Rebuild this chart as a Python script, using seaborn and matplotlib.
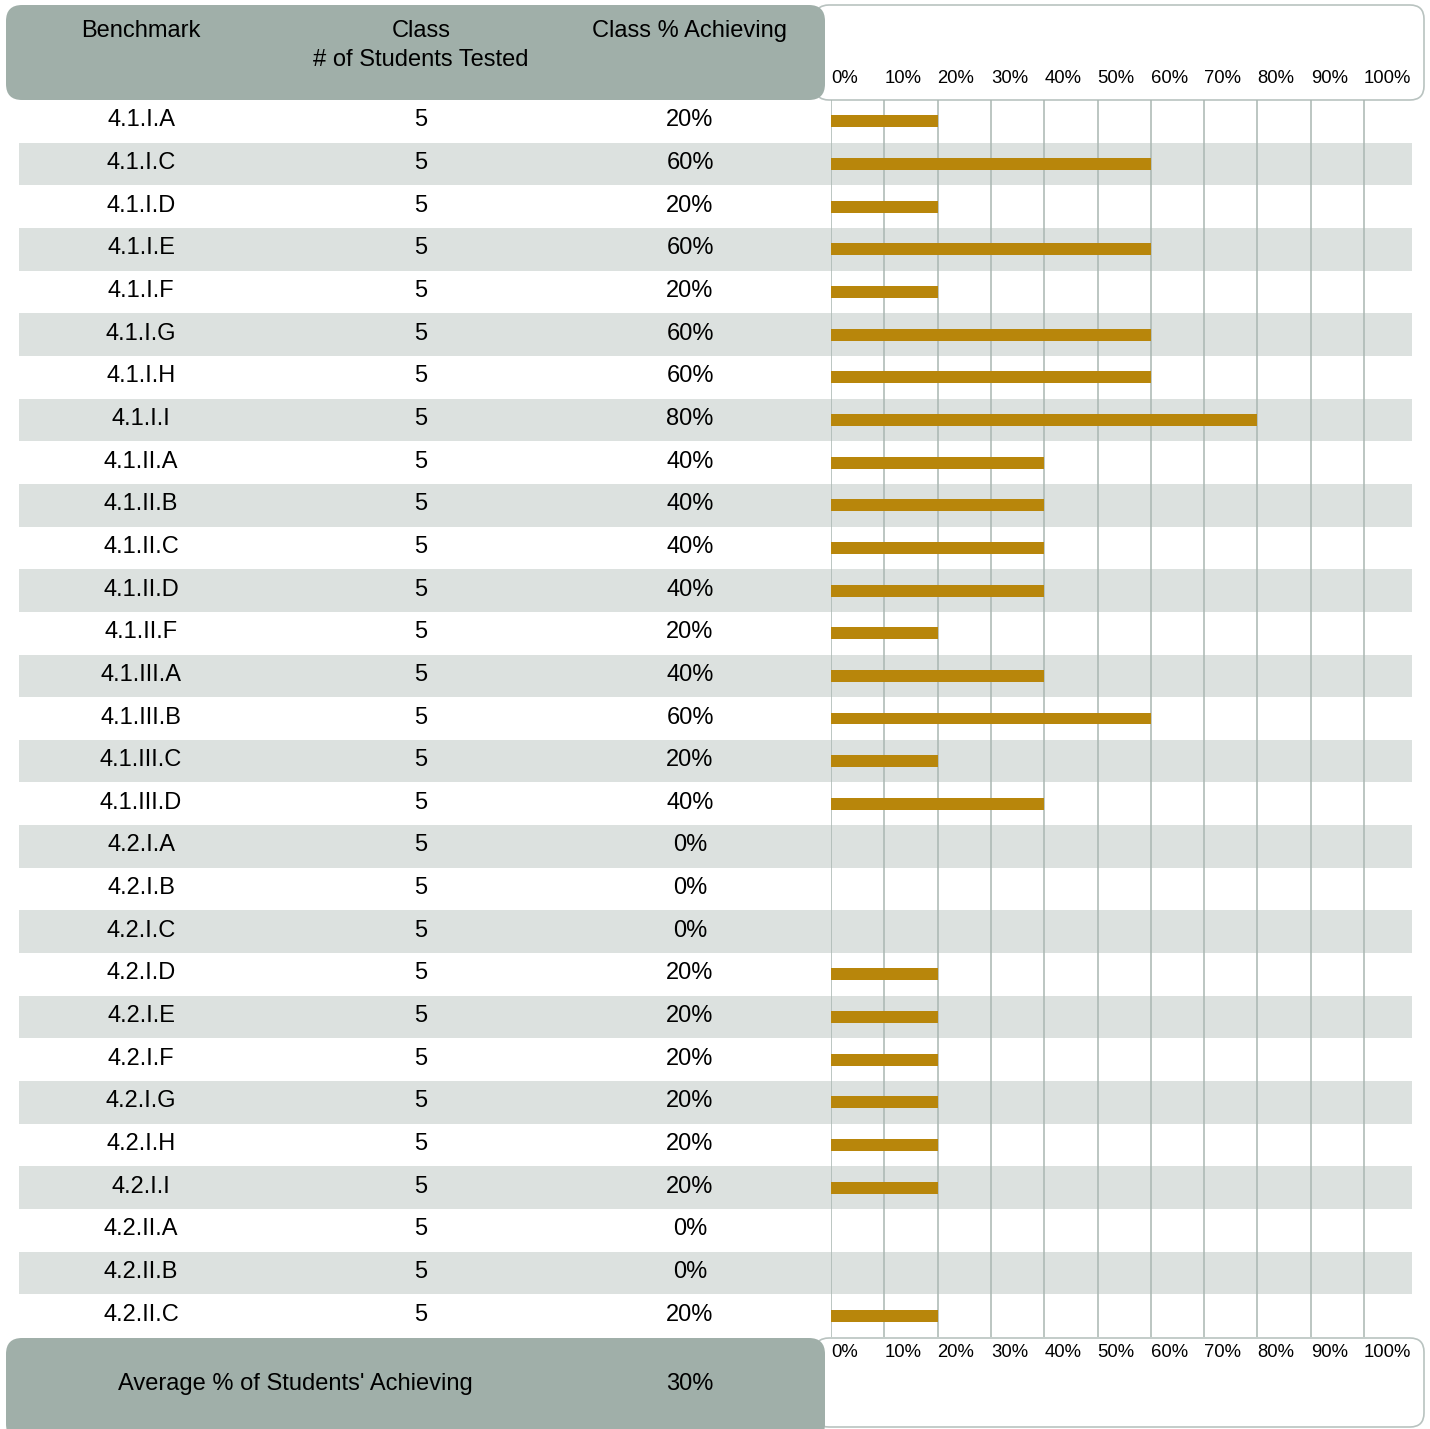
import matplotlib
matplotlib.use("Agg")
import matplotlib.pyplot as plt
from matplotlib.patches import FancyBboxPatch, Rectangle
import seaborn as sns

# data
benchmarks = ["4.1.I.A", "4.1.I.C", "4.1.I.D", "4.1.I.E", "4.1.I.F", "4.1.I.G",
              "4.1.I.H", "4.1.I.I", "4.1.II.A", "4.1.II.B", "4.1.II.C", "4.1.II.D",
              "4.1.II.F", "4.1.III.A", "4.1.III.B", "4.1.III.C", "4.1.III.D",
              "4.2.I.A", "4.2.I.B", "4.2.I.C", "4.2.I.D", "4.2.I.E", "4.2.I.F",
              "4.2.I.G", "4.2.I.H", "4.2.I.I", "4.2.II.A", "4.2.II.B", "4.2.II.C"]
tested = [5] * 29
pct = [20, 60, 20, 60, 20, 60, 60, 80, 40, 40, 40, 40, 20, 40, 60, 20, 40,
       0, 0, 0, 20, 20, 20, 20, 20, 20, 0, 0, 20]
ticks = [0, 10, 20, 30, 40, 50, 60, 70, 80, 90, 100]
average = 30

sns.set_theme(style="white")
plt.rcParams['font.family'] = ['Liberation Sans', 'DejaVu Sans']
plt.rcParams['text.color'] = 'black'
plt.rcParams['xtick.color'] = 'black'

HEAD = "#a0afa9"
BAND = "#dce1df"
GRID = "#aab6b2"
GOLD = "#b8860b"

W, H = 1430, 1429
fig = plt.figure(figsize=(W / 100, H / 100), dpi=100)
bg = fig.add_axes([0, 0, 1, 1])
bg.set_xlim(0, W)
bg.set_ylim(H, 0)
bg.axis('off')

top, bottom = 100, 1337
rh = (bottom - top) / len(benchmarks)

# white outlined boxes behind the axis labels
for y0, y1 in [(5, 100), (1338, 1427)]:
    bg.add_patch(FancyBboxPatch((815, y0), 1424 - 815, y1 - y0,
                                boxstyle="round,pad=0,rounding_size=14",
                                fc="white", ec="#b9c3c0", lw=1.2, zorder=1))
# gray header/footer boxes
for y0, y1 in [(5, 100), (1338, 1440)]:
    bg.add_patch(FancyBboxPatch((6, y0), 825 - 6, y1 - y0,
                                boxstyle="round,pad=0,rounding_size=16",
                                fc=HEAD, ec="none", zorder=2))

# alternating row bands
for i in range(len(benchmarks)):
    if i % 2 == 1:
        bg.add_patch(Rectangle((19, top + i * rh), 1412 - 19, rh,
                               fc=BAND, ec="none", zorder=0))

fs = 17
bg.text(141, 37, "Benchmark", ha="center", va="baseline", fontsize=fs, zorder=3)
bg.text(421, 37, "Class", ha="center", va="baseline", fontsize=fs, zorder=3)
bg.text(421, 66, "# of Students Tested", ha="center", va="baseline", fontsize=fs, zorder=3)
bg.text(690, 37, "Class % Achieving", ha="center", va="baseline", fontsize=fs, zorder=3)

for i, (b, n, p) in enumerate(zip(benchmarks, tested, pct)):
    yb = top + rh * (i + 0.5) + 5
    bg.text(141, yb, b, ha="center", va="baseline", fontsize=fs, zorder=3)
    bg.text(421, yb, str(n), ha="center", va="baseline", fontsize=fs, zorder=3)
    bg.text(690, yb, f"{p}%", ha="center", va="baseline", fontsize=fs, zorder=3)

bg.text(295, 1390, "Average % of Students' Achieving", ha="center", va="baseline",
        fontsize=fs, zorder=3)
bg.text(690, 1390, f"{average}%", ha="center", va="baseline", fontsize=fs, zorder=3)

# bar chart
x0, x1 = 831, 1412
px100 = 1364 - 831
ax = fig.add_axes([x0 / W, (H - bottom) / H, (x1 - x0) / W, (bottom - top) / H])
ax.patch.set_alpha(0)
sns.barplot(x=pct, y=benchmarks, orient="h", color=GOLD, saturation=1,
            width=0.28, errorbar=None, linewidth=0, ax=ax, zorder=3)
ax.set_xlim(0, 100 * (x1 - x0) / px100)
ax.set_ylim(len(benchmarks) - 0.5, -0.5)
ax.set_yticks([])
ax.set_ylabel("")
ax.set_xlabel("")
for s in ax.spines.values():
    s.set_visible(False)
ax.set_axisbelow(True)
ax.grid(axis="x", color=GRID, lw=1.1)
ax.grid(axis="y", visible=False)

labels = [f"{t}%" for t in ticks]
ax.set_xticks(ticks)
ax.set_xticklabels(labels, ha="left", fontsize=13.3)
ax.tick_params(axis="x", length=0, pad=5)

sec = ax.secondary_xaxis("top")
sec.set_xticks(ticks)
sec.set_xticklabels(labels, ha="left", fontsize=13.3)
sec.tick_params(axis="x", length=0, pad=9)
for s in sec.spines.values():
    s.set_visible(False)

fig.savefig("out.png", dpi=100)
